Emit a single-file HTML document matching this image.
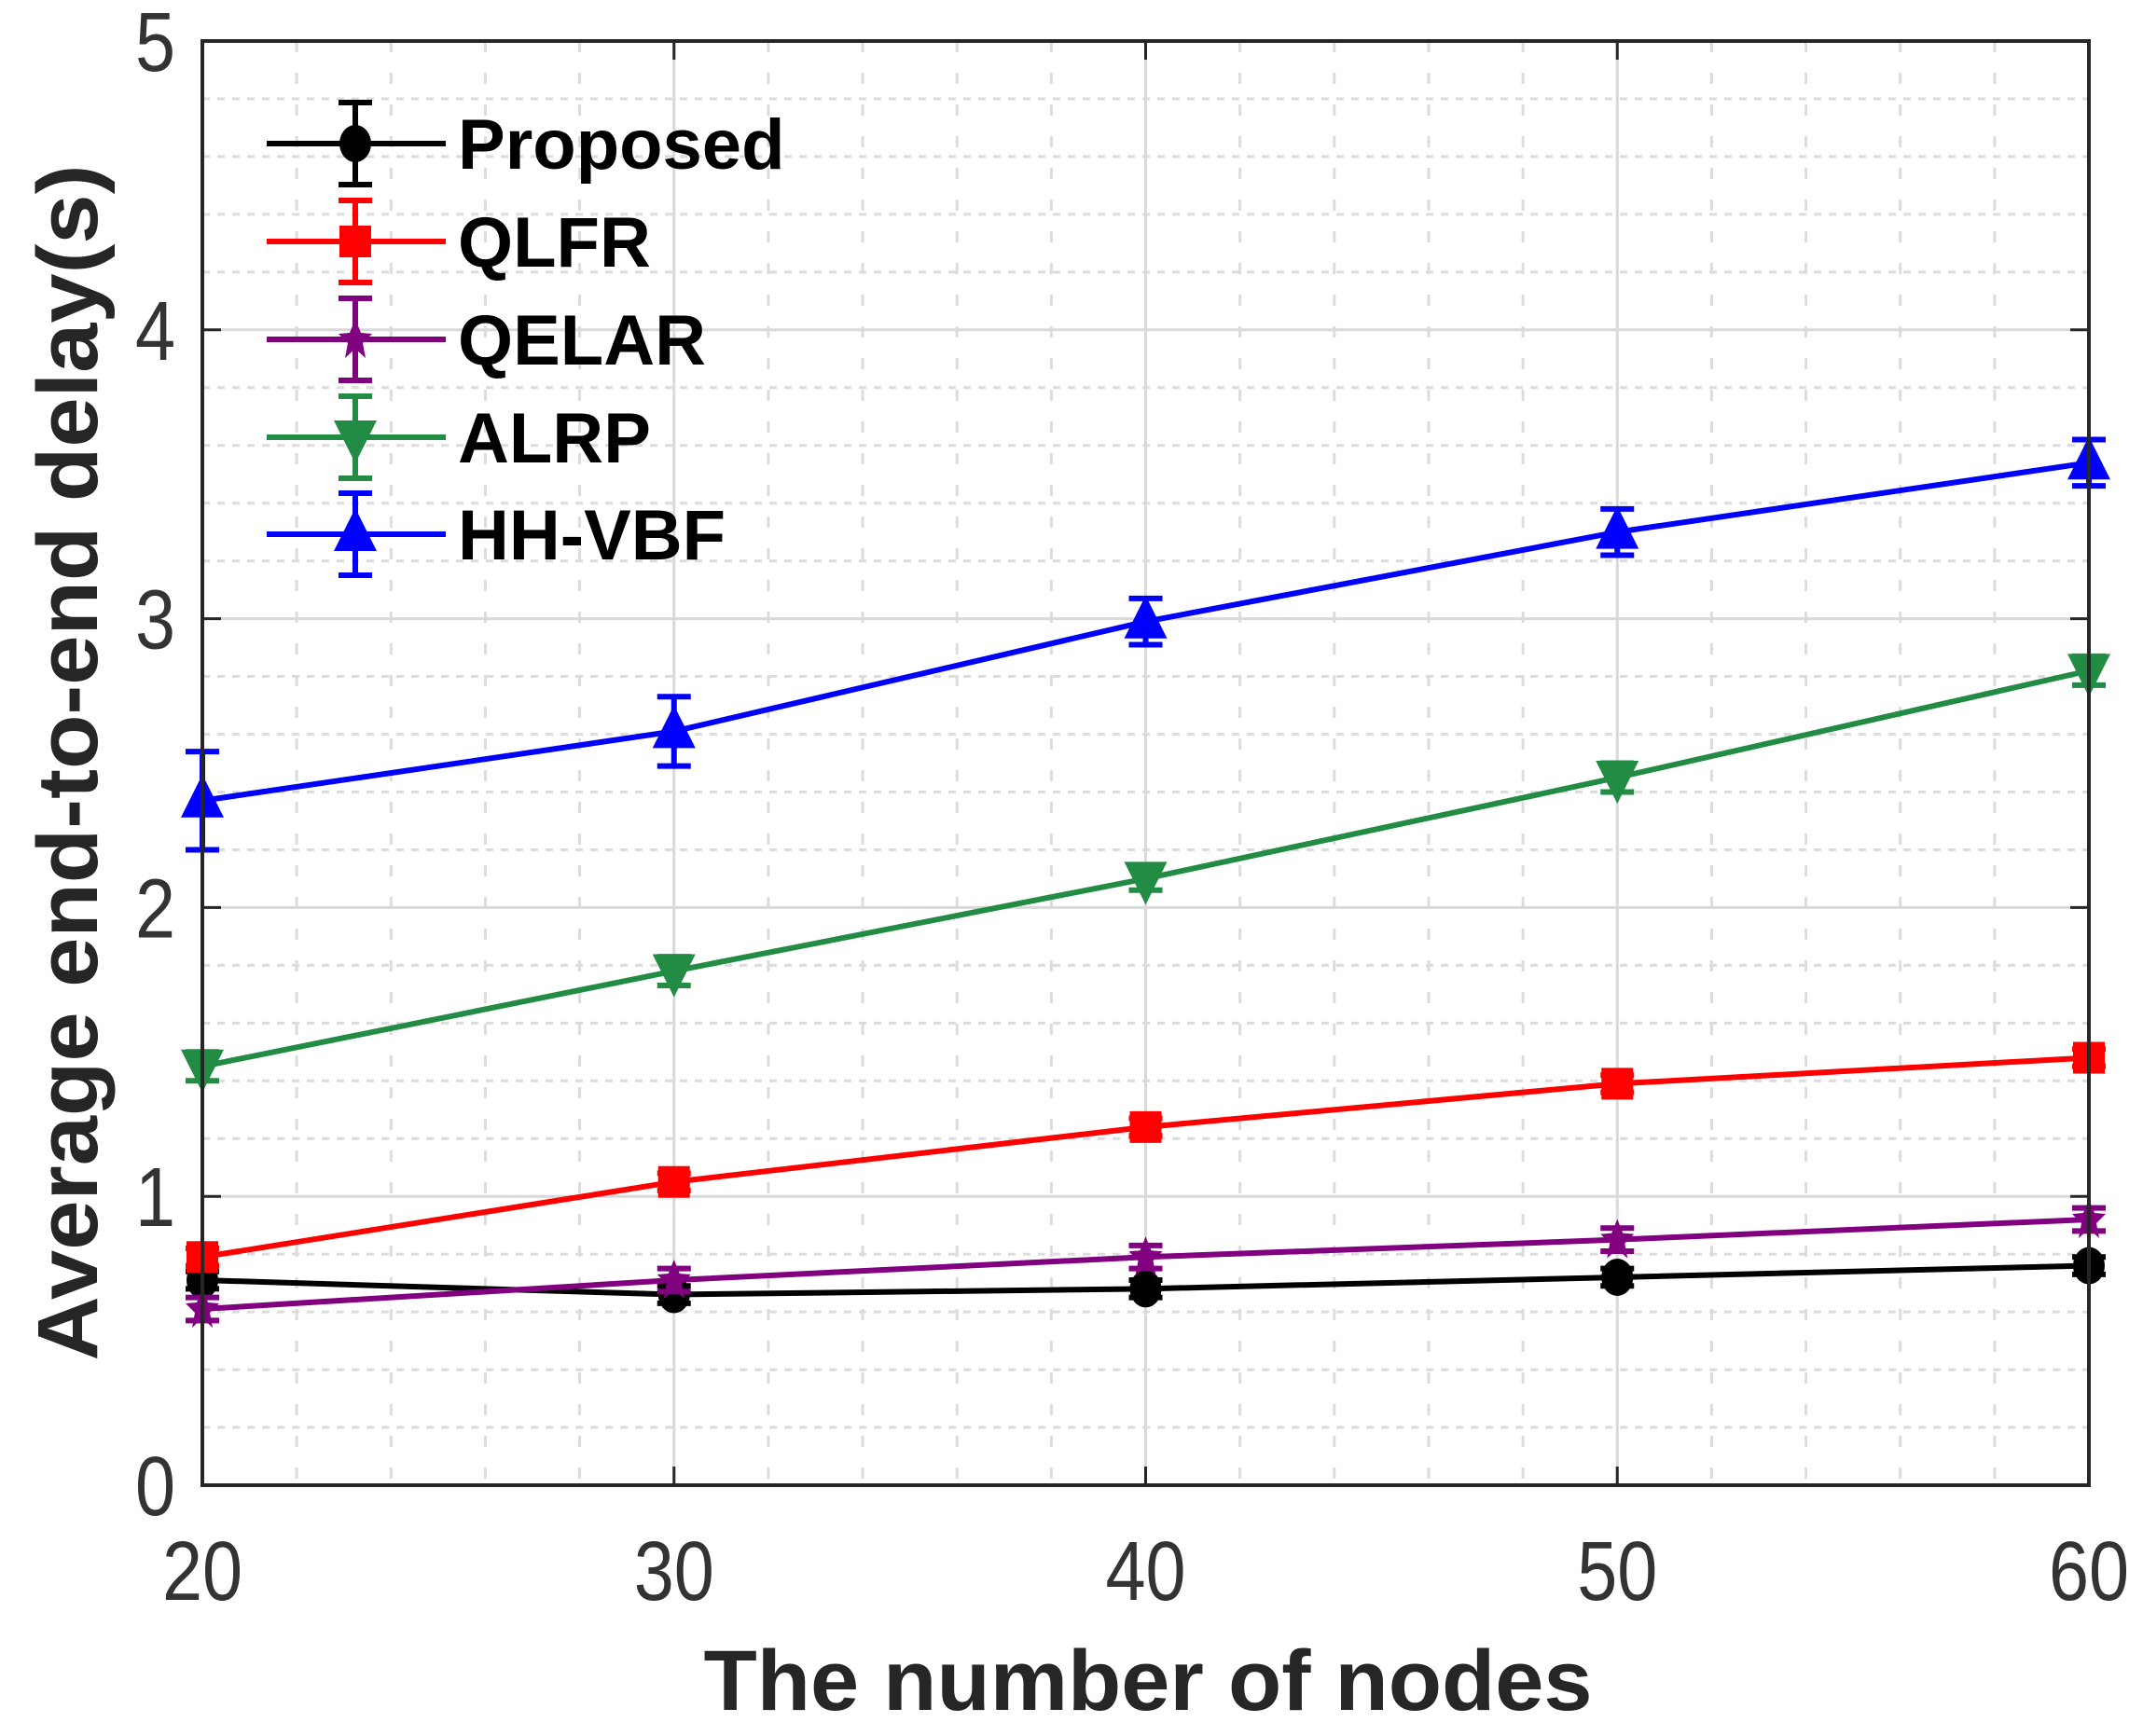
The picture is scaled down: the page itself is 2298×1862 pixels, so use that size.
<!DOCTYPE html>
<html><head><meta charset="utf-8"><style>
html,body{margin:0;padding:0;background:#fff;}
svg{display:block;}
</style></head><body>
<svg id="chart" width="2298" height="1862" viewBox="0 0 2298 1862" xmlns="http://www.w3.org/2000/svg">
<g id="grid"></g>
<g id="series"></g>
<g id="axes"></g>
<g id="legend"></g>
<text x="0" y="0" transform="translate(104,818) rotate(-90)" text-anchor="middle" textLength="1283" lengthAdjust="spacingAndGlyphs" font-family="Liberation Sans, sans-serif" font-weight="bold" font-size="92" fill="#262626">Average end-to-end delay(s)</text>
<text x="1231" y="1834" text-anchor="middle" textLength="953" lengthAdjust="spacingAndGlyphs" font-family="Liberation Sans, sans-serif" font-weight="bold" font-size="92" fill="#262626">The number of nodes</text>
</svg>
<script>
const categories = [20, 30, 40, 50, 60];
const seriesNames = ["Proposed", "QLFR", "QELAR", "ALRP", "HH-VBF"];
const proposed = [0.71, 0.66, 0.68, 0.72, 0.76];
const qlfr = [0.79, 1.05, 1.24, 1.39, 1.48];
const qelar = [0.61, 0.71, 0.79, 0.85, 0.92];
const alrp = [1.45, 1.78, 2.10, 2.45, 2.82];
const hhvbf = [2.37, 2.61, 2.99, 3.30, 3.54];
const errProposed = [0.03, 0.03, 0.03, 0.03, 0.03];
const errQlfr = [0.03, 0.03, 0.03, 0.03, 0.03];
const errQelar = [0.04, 0.04, 0.04, 0.04, 0.04];
const errAlrp = [0.05, 0.05, 0.04, 0.05, 0.05];
const errHhvbf = [0.17, 0.12, 0.08, 0.08, 0.08];
const xTicks = [20, 30, 40, 50, 60];
const yTicks = [0, 1, 2, 3, 4, 5];

const NS = "http://www.w3.org/2000/svg";
const L = 217, R = 2240, T = 44, B = 1593;
const xMin = 20, xMax = 60, yMin = 0, yMax = 5;
function xs(v){ return L + (v - xMin) / (xMax - xMin) * (R - L); }
function ys(v){ return B - (v - yMin) / (yMax - yMin) * (B - T); }
function mk(tag, attrs, parent){
  const e = document.createElementNS(NS, tag);
  for (const k in attrs) e.setAttribute(k, attrs[k]);
  parent.appendChild(e);
  return e;
}
const grid = document.getElementById('grid');
const axes = document.getElementById('axes');
const ser = document.getElementById('series');
const leg = document.getElementById('legend');

for (let v = xMin + 2; v < xMax; v += 2) {
  if ((v - xMin) % 10 === 0) continue;
  const l = mk('line', {x1: xs(v), x2: xs(v), y1: T, y2: B, stroke: '#dcdcdc', 'stroke-width': 3, 'stroke-dasharray': '12 22'}, grid);
  
  
}
for (let i = 1; i < 25; i++) {
  if (i % 5 === 0) continue;
  const v = i * 0.2;
  const l = mk('line', {x1: L, x2: R, y1: ys(v), y2: ys(v), stroke: '#dcdcdc', 'stroke-width': 3, 'stroke-dasharray': '8 8'}, grid);
  
  
}
xTicks.forEach(v => {
  const l = mk('line', {x1: xs(v), x2: xs(v), y1: T, y2: B, stroke: '#d9d9d9', 'stroke-width': 3}, grid);
  
  
});
yTicks.forEach(v => {
  const l = mk('line', {x1: L, x2: R, y1: ys(v), y2: ys(v), stroke: '#d9d9d9', 'stroke-width': 3}, grid);
  
  
});

const data = [proposed, qlfr, qelar, alrp, hhvbf];
const errs = [errProposed, errQlfr, errQelar, errAlrp, errHhvbf];
const colors = ['#000000', '#ff0000', '#800080', '#228b44', '#0000ff'];
const markers = ['circle', 'square', 'star', 'tri-down', 'tri-up'];

function drawMarker(type, cx, cy, color, parent, name){
  let e;
  if (type === 'circle') e = mk('ellipse', {cx: cx, cy: cy, rx: 17, ry: 20, fill: color}, parent);
  else if (type === 'square') e = mk('rect', {x: cx - 17, y: cy - 17, width: 34, height: 34, fill: color}, parent);
  else if (type === 'star') e = mk('path', {d: `M${cx},${cy-22} L${cx+6},${cy-7} L${cx+18},${cy-6} L${cx+8},${cy+4} L${cx+11},${cy+20} L${cx},${cy+10} L${cx-11},${cy+20} L${cx-8},${cy+4} L${cx-18},${cy-6} L${cx-6},${cy-7} Z`, fill: color}, parent);
  else if (type === 'tri-down') e = mk('path', {d: `M${cx-23},${cy-18} L${cx+23},${cy-18} L${cx},${cy+28} Z`, fill: color}, parent);
  else e = mk('path', {d: `M${cx-23},${cy+18} L${cx+23},${cy+18} L${cx},${cy-28} Z`, fill: color}, parent);
  
  
  return e;
}

data.forEach((vals, si) => {
  const g = mk('g', {}, ser);
  
  
  const pts = vals.map((v, i) => xs(categories[i]) + ',' + ys(v)).join(' ');
  const pl = mk('polyline', {points: pts, fill: 'none', stroke: colors[si], 'stroke-width': 6}, g);
  
  
  vals.forEach((v, i) => {
    const cx = xs(categories[i]);
    const e = errs[si][i];
    const y1 = ys(v + e), y2 = ys(v - e);
    const eb = mk('path', {d: `M${cx},${y1} L${cx},${y2} M${cx-18},${y1} L${cx+18},${y1} M${cx-18},${y2} L${cx+18},${y2}`, stroke: colors[si], 'stroke-width': 6, fill: 'none'}, g);
    
    
    drawMarker(markers[si], cx, ys(v), colors[si], g, 'marker-' + seriesNames[si].toLowerCase());
  });
});

const box = mk('rect', {x: L, y: T, width: R - L, height: B - T, fill: 'none', stroke: '#262626', 'stroke-width': 4}, axes);


xTicks.forEach(v => {
  const t = mk('path', {d: `M${xs(v)},${B} L${xs(v)},${B-20} M${xs(v)},${T} L${xs(v)},${T+20}`, stroke: '#262626', 'stroke-width': 3}, axes);
  
  
  const tx = mk('text', {x: 0, y: 0, transform: `translate(${xs(v)},1716) scale(0.86,1)`, 'text-anchor': 'middle', 'font-family': 'Liberation Sans, sans-serif', 'font-size': 90, fill: '#333'}, axes);
  tx.textContent = v;
  
  
});
yTicks.forEach(v => {
  const t = mk('path', {d: `M${L},${ys(v)} L${L+20},${ys(v)} M${R},${ys(v)} L${R-20},${ys(v)}`, stroke: '#262626', 'stroke-width': 3}, axes);
  
  
  const tx = mk('text', {x: 0, y: 0, transform: `translate(188,${ys(v) + 32}) scale(0.86,1)`, 'text-anchor': 'end', 'font-family': 'Liberation Sans, sans-serif', 'font-size': 90, fill: '#333'}, axes);
  tx.textContent = v;
  
  
});

const legY = [154, 259, 364, 469, 573];
seriesNames.forEach((n, si) => {
  const g = mk('g', {}, leg);
  
  
  const y = legY[si], cx = 381;
  mk('line', {x1: 286, x2: 478, y1: y, y2: y, stroke: colors[si], 'stroke-width': 6}, g);
  mk('path', {d: `M${cx},${y-44} L${cx},${y+44} M${cx-18},${y-44} L${cx+18},${y-44} M${cx-18},${y+44} L${cx+18},${y+44}`, stroke: colors[si], 'stroke-width': 6, fill: 'none'}, g);
  drawMarker(markers[si], cx, y, colors[si], g, 'legend-marker');
  const tx = mk('text', {x: 491, y: y + 27, 'font-family': 'Liberation Sans, sans-serif', 'font-weight': 'bold', 'font-size': 76, fill: '#000'}, g);
  tx.textContent = n;
  
  
});
</script>
</body></html>
